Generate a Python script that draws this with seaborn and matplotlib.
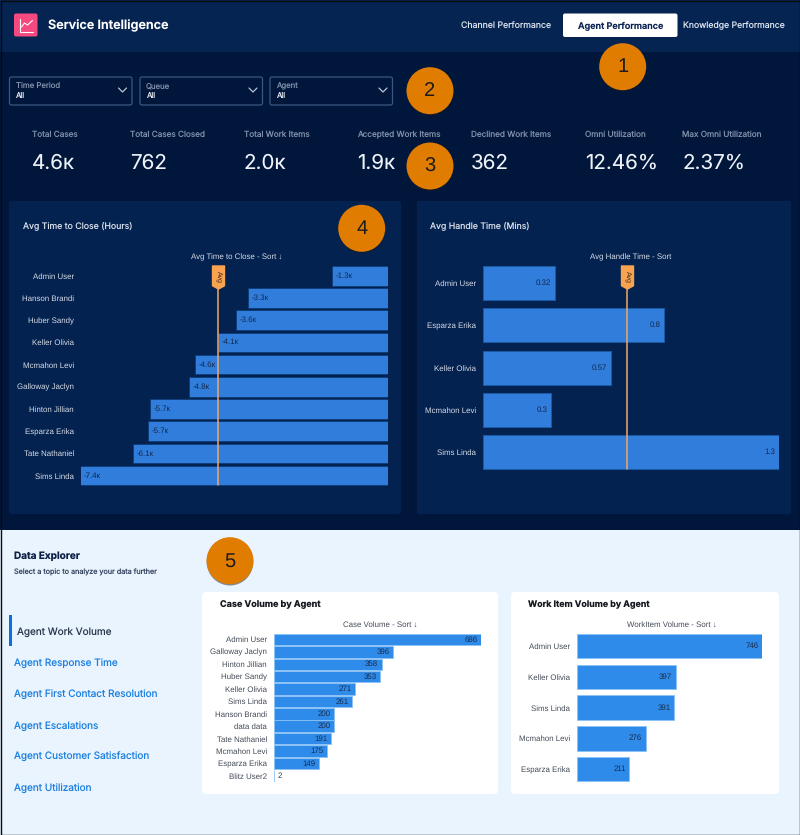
import pandas as pd
import matplotlib.pyplot as plt
import matplotlib.patches as mpatches
from matplotlib.path import Path
import seaborn as sns

W, H = 800, 835

# chart data
close_agents = ['Admin User', 'Hanson Brandi', 'Huber Sandy', 'Keller Olivia', 'Mcmahon Levi',
                'Galloway Jaclyn', 'Hinton Jillian', 'Esparza Erika', 'Tate Nathaniel', 'Sims Linda']
close_values = [-1.34, -3.37, -3.65, -4.09, -4.64, -4.79, -5.73, -5.78, -6.13, -7.4]
close_labels = ['-1.3к', '-3.3к', '-3.6к', '-4.1к', '-4.6к', '-4.8к', '-5.7к', '-5.7к', '-6.1к', '-7.4к']
close_avg = -4.09

handle_agents = ['Admin User', 'Esparza Erika', 'Keller Olivia', 'Mcmahon Levi', 'Sims Linda']
handle_values = [0.315, 0.794, 0.561, 0.299, 1.3]
handle_labels = ['0.32', '0.8', '0.57', '0.3', '1.3']
handle_avg = 0.632

case_agents = ['Admin User', 'Galloway Jaclyn', 'Hinton Jillian', 'Huber Sandy', 'Keller Olivia', 'Sims Linda',
               'Hanson Brandi', 'data data', 'Tate Nathaniel', 'Mcmahon Levi', 'Esparza Erika', 'Blitz User2']
case_values = [686, 396, 358, 353, 271, 261, 200, 200, 191, 175, 149, 2]

work_agents = ['Admin User', 'Keller Olivia', 'Sims Linda', 'Mcmahon Levi', 'Esparza Erika']
work_values = [746, 397, 391, 276, 211]

kpi_names = ['Total Cases', 'Total Cases Closed', 'Total Work Items', 'Accepted Work Items',
             'Declined Work Items', 'Omni Utilization', 'Max Omni Utilization']
kpi_values = ['4.6к', '762', '2.0к', '1.9к', '362', '12.46%', '2.37%']
filter_names = ['Time Period', 'Queue', 'Agent']
topics = ['Agent Work Volume', 'Agent Response Time', 'Agent First Contact Resolution',
          'Agent Escalations', 'Agent Customer Satisfaction', 'Agent Utilization']

sns.set_theme(style='white')
plt.rcParams['font.family'] = ['Inter', 'DejaVu Sans']
plt.rcParams['text.hinting'] = 'none'
chart_font = ['Liberation Sans', 'DejaVu Sans']

fig = plt.figure(figsize=(W / 100, H / 100), dpi=100, facecolor='#01163B')
bg = fig.add_axes([0, 0, 1, 1])
bg.set_xlim(0, W)
bg.set_ylim(H, 0)
bg.axis('off')


def box(x0, y0, x1, y1, color, edge='none', rad=0, lw=1, z=1):
    if rad:
        p = mpatches.FancyBboxPatch((x0, y0), x1 - x0, y1 - y0, boxstyle=f'round,pad=0,rounding_size={rad}',
                                    fc=color, ec=edge, lw=lw, zorder=z)
    else:
        p = mpatches.Rectangle((x0, y0), x1 - x0, y1 - y0, fc=color, ec=edge, lw=lw, zorder=z)
    bg.add_patch(p)


def label(x, y, s, size, color, ha='left', weight='normal', **kw):
    bg.text(x, y, s, fontsize=size, color=color, ha=ha, va='center', fontweight=weight, zorder=5, **kw)


# page areas
box(0, 0, W, 52, '#052452')
box(9, 201, 401, 514, '#04224F', rad=3)
box(417, 201, 791, 514, '#04224F')
box(0, 530, W, H, '#E9F4FE')
box(202, 592, 498, 794, 'white', rad=4)
box(511, 592, 779, 794, 'white', rad=4)

# header
box(14, 13.5, 37.5, 36.5, '#F5497F', rad=2, z=2)
bg.plot([19.5, 19.5, 33], [18.5, 31.5, 31.5], color='white', lw=0.8, zorder=3)
bg.plot([21.5, 24.5, 27.5, 32.5], [27, 23, 25, 20.5], color='white', lw=0.8, zorder=3)
label(48, 25.8, 'Service Intelligence', 9.1, 'white', weight='semibold')
label(461, 26, 'Channel Performance', 6.3, '#DCE3EE')
box(563, 13.5, 677.5, 37, 'white', rad=2)
label(620.5, 26, 'Agent Performance', 6.5, '#0B2353', ha='center', weight='semibold')
label(683, 26, 'Knowledge Performance', 6.25, '#DCE3EE')

# filters
for name, x0 in zip(filter_names, [9.5, 140, 270]):
    box(x0, 77, x0 + 122.5, 105, 'none', edge='#3B5681', rad=2, lw=0.9)
    label(x0 + 6, 86, name, 5.6, '#7F8FA9')
    label(x0 + 6, 96, 'All', 5.6, '#E4E9F1')
    bg.plot([x0 + 109, x0 + 113, x0 + 117], [88, 92, 88], color='#B8C4D6', lw=0.9, zorder=3)

# KPI row
for name, val, x0 in zip(kpi_names, kpi_values, [31.5, 130, 243.5, 357.5, 471, 585, 682.5]):
    label(x0, 134.5, name, 5.9, '#7F8FA9')
    label(x0, 163, val, 14.8, '#EFF3F9')

# panel titles
label(23, 225.5, 'Avg Time to Close (Hours)', 6.3, '#D7DEE9')
label(430, 225.5, 'Avg Handle Time (Mins)', 6.3, '#D7DEE9')

# data explorer side
label(14, 556.5, 'Data Explorer', 7.2, '#0E1F45', weight='bold')
label(14, 572, 'Select a topic to analyze your data further', 5.2, '#3A4763')
box(9, 615, 11.5, 646, '#0B6FDF', z=2)
for i, (topic, y) in enumerate(zip(topics, [631, 662, 693, 724.5, 756, 787])):
    label(17 if i == 0 else 14, y + 1.2, topic, 7.2, '#2B3850' if i == 0 else '#1B7FE0')

# card titles
label(220, 604.3, 'Case Volume by Agent', 6.5, '#14181F', weight='bold')
label(528, 604.3, 'Work Item Volume by Agent', 6.4, '#14181F', weight='bold')


def bar_chart(rect, agents, values, texts, xlim, title, title_xy, title_size, bar_h, bar_color, edge, tick_color,
              text_color, title_color, pad=4.8, edge_lw=0.6, size=5.7):
    x0, y0, x1, y1 = rect
    ax = fig.add_axes([x0 / W, 1 - y1 / H, (x1 - x0) / W, (y1 - y0) / H])
    ax.patch.set_visible(False)
    df = pd.DataFrame({'agent': agents, 'value': values})
    sns.barplot(data=df, x='value', y='agent', orient='h', color=bar_color, saturation=1, width=bar_h,
                edgecolor=edge, linewidth=edge_lw, ax=ax)
    ax.set_xlim(*xlim)
    ax.set_xlabel('')
    ax.set_ylabel('')
    ax.set_xticks([])
    ax.tick_params(axis='y', length=0, pad=pad, labelsize=size, labelcolor=tick_color)
    for t in ax.get_yticklabels():
        t.set_fontfamily(chart_font)
    sns.despine(ax=ax, left=True, bottom=True)
    span = xlim[1] - xlim[0]
    for i, (val, txt) in enumerate(zip(values, texts)):
        if val < 0:
            ax.annotate(txt, (val, i), xytext=(2.5, 0), textcoords='offset points', ha='left', va='center',
                        fontsize=size, color=text_color, family=chart_font)
        elif val / span < 0.05:
            ax.annotate(txt, (val, i), xytext=(2.5, 0), textcoords='offset points', ha='left', va='center',
                        fontsize=size, color='#333B4A', family=chart_font)
        else:
            ax.annotate(txt, (val, i), xytext=(-2.5, 0), textcoords='offset points', ha='right', va='center',
                        fontsize=size, color=text_color, family=chart_font)
    label(title_xy[0], title_xy[1], title, title_size, title_color, ha='center', family=chart_font)
    return ax


def avg_flag(ax, rect, avg, line_end):
    x0, y0, x1, y1 = rect
    h = y1 - y0
    # line starts under the flag and stops at the last bar
    ax.axvline(avg, ymin=(y1 - line_end) / h, ymax=(y1 - 288) / h, color='#F2A765', lw=1.1, zorder=4)
    flag = Path([(-0.26, 0.5), (0.26, 0.5), (0.26, -0.36), (0, -0.5), (-0.26, -0.36), (-0.26, 0.5)], closed=True)
    yf = 1 - (277 - y0) / h
    ax.plot([avg], [yf], marker=flag, markersize=16.6, color='#F9A24F', markeredgecolor='#F9A24F',
            transform=ax.get_xaxis_transform(), clip_on=False, zorder=5, scalex=False, scaley=False)
    ax.annotate('Avg', (avg, yf), xycoords=ax.get_xaxis_transform(), rotation=-90, ha='center', va='center',
                fontsize=5, color='#3A2A18', zorder=6, family=chart_font)


close_rect = (80.5, 264.7, 388, 486.7)
handle_rect = (483, 261.85, 779, 473.4)

ax1 = bar_chart(close_rect, close_agents, close_values, close_labels, (-7.4, 0),
                'Avg Time to Close - Sort ↓', (237, 257.7), 5.7, 0.88, '#317DDB', '#0E3B78',
                '#D5DCE7', '#12294F', '#D5DCE7')
avg_flag(ax1, close_rect, close_avg, 485)

ax2 = bar_chart(handle_rect, handle_agents, handle_values, handle_labels, (0, 1.3),
                'Avg Handle Time - Sort', (631, 257.7), 5.7, 0.8, '#317DDB', '#1B5BA8',
                '#D5DCE7', '#12294F', '#D5DCE7')
avg_flag(ax2, handle_rect, handle_avg, 469)

bar_chart((273.7, 633.3, 480.7, 782), case_agents, case_values, [str(v) for v in case_values], (0, 686),
          'Case Volume - Sort ↓', (380, 625.3), 5.7, 0.93, '#2F8BEA', '#8CC2F6',
          '#444B58', '#1A2B4A', '#444B58')
bar_chart((577, 630.85, 762.3, 784.35), work_agents, work_values, [str(v) for v in work_values], (0, 746),
          'WorkItem Volume - Sort ↓', (672.3, 625.3), 5.7, 0.795, '#2F8BEA', '#8CC2F6',
          '#444B58', '#1A2B4A', '#444B58')

# numbered badges go on top of everything
top = fig.add_axes([0, 0, 1, 1])
top.set_xlim(0, W)
top.set_ylim(H, 0)
top.axis('off')
for n, (cx, cy) in enumerate([(622.7, 66.7), (430, 90.7), (430, 166), (361.7, 228.3), (230, 560.7)], start=1):
    top.add_patch(mpatches.Ellipse((cx, cy + 1.5), 46.5, 46.5, fc='#1A1A1A', alpha=0.5, ec='none'))
    top.add_patch(mpatches.Ellipse((cx, cy), 47, 47, fc='#E07C00', ec='none'))
    top.text(cx, cy + 0.5, str(n), fontsize=14.5, color='#1C1C1C', ha='center', va='center', family=chart_font)
top.add_patch(mpatches.Rectangle((0.5, 0.5), W - 1, H - 1, fc='none', ec='#0A0A0A', lw=1))

fig.savefig('out.png', dpi=100, facecolor=fig.get_facecolor())
